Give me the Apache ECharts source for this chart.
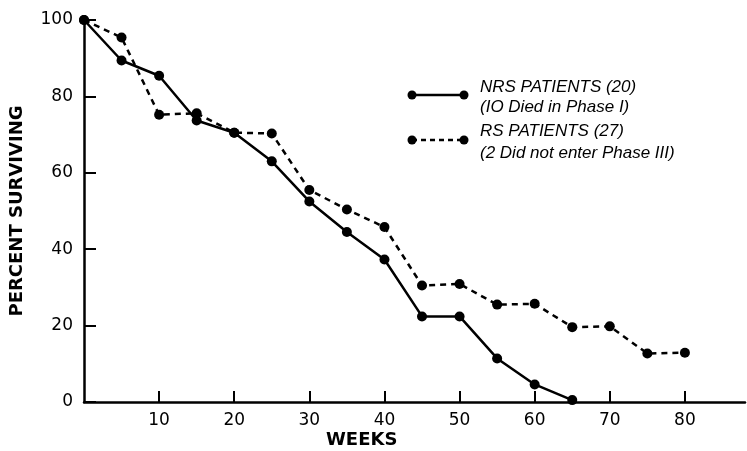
<!DOCTYPE html>
<html>
<head>
<meta charset="utf-8">
<script src="https://cdn.jsdelivr.net/npm/echarts@6/dist/echarts.min.js"></script>
<style>html,body{margin:0;padding:0;background:#fff}#c{width:747px;height:451px}</style>
</head>
<body>
<div id="c"></div>
<script>
var weeks = [0, 5, 10, 15, 20, 25, 30, 35, 40, 45, 50, 55, 60, 65, 70, 75, 80];
var nrsValues = [100, 89.4, 85.4, 73.7, 70.5, 63.0, 52.5, 44.5, 37.3, 22.4, 22.4, 11.4, 4.6, 0.5];
var rsValues = [100, 95.4, 75.2, 75.6, 70.5, 70.3, 55.5, 50.4, 45.8, 30.5, 30.9, 25.5, 25.7, 19.6, 19.8, 12.7, 12.9];
var xTicks = [10, 20, 30, 40, 50, 60, 70, 80];
var yTicks = [0, 20, 40, 60, 80, 100];
var nrsName = 'NRS PATIENTS (20)';
var nrsNote = '(IO Died in Phase I)';
var rsName = 'RS PATIENTS (27)';
var rsNote = '(2 Did not enter Phase III)';

function pairs(vals) { return vals.map(function (v, i) { return [weeks[i], v]; }); }

var chart = echarts.init(document.getElementById('c'));
var font = 'DejaVu Sans';
var legendFont = { fontFamily: 'Liberation Sans', fontStyle: 'italic', fontSize: 17, fill: '#000' };

chart.setOption({
  backgroundColor: '#fff',
  animation: false,
  grid: { left: 82, right: 2, top: 20, bottom: 49 },
  xAxis: {
    type: 'value', min: 0, max: 88,
    axisLine: { lineStyle: { color: '#000', width: 2.5 } },
    axisTick: { inside: true, length: 11, customValues: xTicks, lineStyle: { color: '#000', width: 2 } },
    axisLabel: { customValues: xTicks, color: '#000', fontSize: 17, fontFamily: font, margin: 10 },
    splitLine: { show: false }
  },
  yAxis: {
    type: 'value', min: 0, max: 100, interval: 20,
    name: 'PERCENT SURVIVING', nameLocation: 'middle', nameGap: 58, nameRotate: 90,
    nameTextStyle: { color: '#000', fontSize: 18, fontWeight: 'bold', fontFamily: font },
    axisLine: { show: true, lineStyle: { color: '#000', width: 2.5 } },
    axisTick: { show: true, inside: true, length: 12, customValues: yTicks, lineStyle: { color: '#000', width: 2 } },
    axisLabel: { color: '#000', fontSize: 17, fontFamily: font, margin: 11 },
    splitLine: { show: false }
  },
  series: [
    {
      name: nrsName, type: 'line', data: pairs(nrsValues),
      symbol: 'circle', symbolSize: 10, showSymbol: true,
      lineStyle: { color: '#000', width: 2.5 },
      itemStyle: { color: '#000' }
    },
    {
      name: rsName, type: 'line', data: pairs(rsValues),
      symbol: 'circle', symbolSize: 10, showSymbol: true,
      lineStyle: { color: '#000', width: 2.5, type: [6, 5] },
      itemStyle: { color: '#000' }
    }
  ],
  graphic: [
    { type: 'text', left: 326, top: 431, style: { text: 'WEEKS', fontSize: 18, fontWeight: 'bold', fontFamily: font, fill: '#000' } },
    { type: 'line', shape: { x1: 412, y1: 95, x2: 464, y2: 95 }, style: { stroke: '#000', lineWidth: 2.5 } },
    { type: 'circle', shape: { cx: 412, cy: 95, r: 4.5 }, style: { fill: '#000' } },
    { type: 'circle', shape: { cx: 464, cy: 95, r: 4.5 }, style: { fill: '#000' } },
    { type: 'text', x: 480, y: 79, style: Object.assign({ text: nrsName }, legendFont) },
    { type: 'text', x: 480, y: 99, style: Object.assign({ text: nrsNote }, legendFont) },
    { type: 'line', shape: { x1: 412, y1: 140, x2: 464, y2: 140 }, style: { stroke: '#000', lineWidth: 2.5, lineDash: [5, 4] } },
    { type: 'circle', shape: { cx: 412, cy: 140, r: 4.5 }, style: { fill: '#000' } },
    { type: 'circle', shape: { cx: 464, cy: 140, r: 4.5 }, style: { fill: '#000' } },
    { type: 'text', x: 480, y: 123, style: Object.assign({ text: rsName }, legendFont) },
    { type: 'text', x: 480, y: 145, style: Object.assign({ text: rsNote }, legendFont) }
  ]
});
</script>
</body>
</html>
